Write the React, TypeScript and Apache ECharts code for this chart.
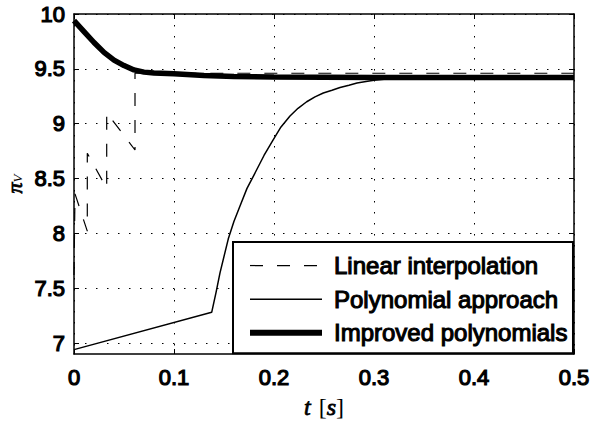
import React, { useEffect, useRef } from 'react';
import * as echarts from 'echarts';

const xTicks = [0, 0.1, 0.2, 0.3, 0.4, 0.5];
const yTicks = [7, 7.5, 8, 8.5, 9, 9.5, 10];

const seriesNames = ['Linear interpolation', 'Polynomial approach', 'Improved polynomials'];

const linT = [0, 0.001, 0.0133, 0.0133, 0.0327, 0.0327, 0.061, 0.061, 0.5];
const linV = [7.62, 8.36, 8.02, 8.73, 8.41, 9.1, 8.76, 9.46, 9.46];

const polyT = [0, 0.1377, 0.142, 0.146, 0.1543, 0.16, 0.166, 0.173, 0.181, 0.19, 0.1993, 0.207, 0.216, 0.224, 0.2327, 0.241, 0.2493, 0.258, 0.266, 0.275, 0.283, 0.292, 0.3, 0.31, 0.32, 0.335, 0.35, 0.5];
const polyV = [6.94, 7.28, 7.46, 7.64, 7.95, 8.11, 8.25, 8.41, 8.55, 8.71, 8.855, 8.97, 9.07, 9.14, 9.2, 9.245, 9.28, 9.305, 9.33, 9.35, 9.37, 9.385, 9.395, 9.405, 9.41, 9.415, 9.415, 9.415];

const impT = [0, 0.01, 0.02, 0.03, 0.04, 0.05, 0.06, 0.07, 0.08, 0.1, 0.13, 0.16, 0.2, 0.3, 0.5];
const impV = [9.94, 9.84, 9.74, 9.65, 9.58, 9.53, 9.49, 9.47, 9.462, 9.455, 9.44, 9.43, 9.425, 9.42, 9.42];

const pairs = (t: number[], v: number[]) => t.map((x, i) => [x, v[i]]);

const labelFont = 'Liberation Sans, Arial, sans-serif';
const serifFont = 'Liberation Serif, Times New Roman, serif';

const gridDot = { show: true, lineStyle: { color: '#000', width: 1, type: [1.5, 9.5] as any } };

const tickLabel = {
  color: '#000', fontSize: 22, fontWeight: 'normal', fontFamily: labelFont,
  textBorderColor: '#000', textBorderWidth: 1.2,
};

const seriesStyles = [
  { width: 1.2, type: [13, 14] as any },
  { width: 1.5, type: 'solid' },
  { width: 5.5, type: 'solid' },
];

export default function App() {
  const ref = useRef<HTMLDivElement>(null);
  useEffect(() => {
    const chart = echarts.init(ref.current!, null, { renderer: 'svg' });
    const option: any = {
      animation: false,
      backgroundColor: '#fff',
      color: ['#000', '#000', '#000'],
      grid: { left: 74, right: 20, top: 14, bottom: 69, containLabel: false, outerBoundsMode: 'none' },
      xAxis: [
        {
          type: 'value', min: 0, max: 0.5, interval: 0.1, position: 'bottom',
          axisLine: { show: true, onZero: false, lineStyle: { color: '#000', width: 1.5 } },
          axisTick: { show: true, inside: true, length: 5, lineStyle: { color: '#000', width: 1 } },
          axisLabel: { show: true, margin: 12, ...tickLabel },
          splitLine: gridDot,
          name: '{i|t}{a|[}{i|s}{b|]}', nameLocation: 'middle', nameGap: 41,
          nameTextStyle: {
            rich: {
              i: { fontFamily: serifFont, fontStyle: 'italic', fontSize: 24, color: '#000', textBorderColor: '#000', textBorderWidth: 0.8 },
              a: { fontFamily: serifFont, fontSize: 24, color: '#000', padding: [0, 0, 0, 8] },
              b: { fontFamily: serifFont, fontSize: 24, color: '#000' },
            },
          },
        },
        {
          type: 'value', min: 0, max: 0.5, interval: 0.1, position: 'top',
          axisLine: { show: true, onZero: false, lineStyle: { color: '#000', width: 1.5 } },
          axisTick: { show: true, inside: true, length: 5, lineStyle: { color: '#000', width: 1 } },
          axisLabel: { show: false }, splitLine: { show: false },
        },
      ],
      yAxis: [
        {
          type: 'value', min: 6.9, max: 10, position: 'left',
          axisLine: { show: true, onZero: false, lineStyle: { color: '#000', width: 1.5 } },
          axisTick: { show: true, inside: true, length: 5, customValues: yTicks, lineStyle: { color: '#000', width: 1 } },
          axisLabel: { show: true, customValues: yTicks, margin: 9, ...tickLabel },
          splitLine: gridDot,
          name: '{p|π}{s|V}', nameLocation: 'middle', nameGap: 50, nameRotate: 90, nameMoveOverlap: false,
          nameTextStyle: {
            rich: {
              p: { fontFamily: serifFont, fontStyle: 'italic', fontSize: 22, lineHeight: 20, color: '#000', textBorderColor: '#000', textBorderWidth: 0.8 },
              s: { fontFamily: serifFont, fontStyle: 'italic', fontSize: 13, lineHeight: 13, color: '#000', padding: [7, 0, 0, 0], verticalAlign: 'bottom' },
            },
          },
        },
        {
          type: 'value', min: 6.9, max: 10, position: 'right',
          axisLine: { show: true, onZero: false, lineStyle: { color: '#000', width: 1.5 } },
          axisTick: { show: true, inside: true, length: 5, customValues: yTicks, lineStyle: { color: '#000', width: 1 } },
          axisLabel: { show: false }, splitLine: { show: false },
        },
      ],
      legend: {
        data: seriesNames.map((n, i) => ({
          name: n,
          lineStyle: { color: '#000', width: i === 2 ? 6 : seriesStyles[i].width, type: seriesStyles[i].type },
        })),
        orient: 'vertical',
        left: 233, top: 242,
        itemWidth: 72, itemHeight: 14, itemGap: 8.5,
        padding: [11, 5, 8, 14],
        borderColor: '#000', borderWidth: 2, backgroundColor: '#fff',
        itemStyle: { opacity: 0 },
        textStyle: {
          color: '#000', fontSize: 24, fontWeight: 'normal', fontFamily: labelFont, lineHeight: 24,
          textBorderColor: '#000', textBorderWidth: 1.1, padding: [0, 0, 0, 7],
        },
      },
      series: seriesNames.map((n, i) => ({
        name: n, type: 'line', xAxisIndex: 0, yAxisIndex: 0, symbol: 'none',
        data: i === 0 ? pairs(linT, linV) : i === 1 ? pairs(polyT, polyV) : pairs(impT, impV),
        z: 3 + i, itemStyle: { color: '#000' },
        lineStyle: { color: '#000', width: seriesStyles[i].width, type: seriesStyles[i].type },
      })),
    };
    chart.setOption(option);
    return () => chart.dispose();
  }, []);
  return <div ref={ref} style={{ position: 'absolute', left: 0, top: 0, width: 594, height: 423 }} />;
}
